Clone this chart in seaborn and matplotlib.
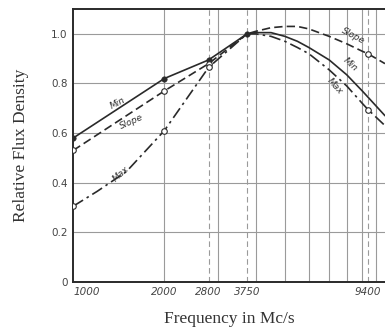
import matplotlib
matplotlib.use("Agg")
import matplotlib.pyplot as plt
import seaborn as sns
import pandas as pd

# ---- data ----
min_freq = [1000, 2000, 2800, 3750, 4000, 4500, 5000, 5500, 6000, 7000, 8000, 9000, 9400, 10700]
min_vals = [0.58, 0.82, 0.895, 1.0, 1.005, 1.005, 0.99, 0.97, 0.945, 0.895, 0.835, 0.77, 0.745, 0.67]
slope_freq = [1000, 2000, 2800, 3750, 4000, 4500, 5000, 5500, 6000, 7000, 8000, 9000, 9400, 10700]
slope_vals = [0.53, 0.77, 0.88, 1.0, 1.01, 1.025, 1.03, 1.03, 1.02, 0.99, 0.96, 0.93, 0.92, 0.88]
max_freq = [1000, 1200, 1500, 2000, 2800, 3750, 4000, 4500, 5000, 5500, 6000, 7000, 8000, 9000, 9400, 10700]
max_vals = [0.305, 0.365, 0.445, 0.61, 0.865, 1.0, 1.0, 0.99, 0.97, 0.945, 0.92, 0.855, 0.79, 0.72, 0.695, 0.63]

min_pt_freq = [1000, 2000, 2800, 3750]
min_pt_vals = [0.58, 0.82, 0.895, 1.0]
slope_pt_freq = [1000, 2000, 2800, 9400]
slope_pt_vals = [0.53, 0.77, 0.88, 0.92]
max_pt_freq = [1000, 2000, 2800, 9400]
max_pt_vals = [0.305, 0.61, 0.865, 0.695]

xtick_vals = [1000, 2000, 2800, 3750, 9400]
xtick_labels = ["1000", "2000", "2800", "3750", "9400"]
ytick_vals = [0, 0.2, 0.4, 0.6, 0.8, 1.0]
ytick_labels = ["0", "0.2", "0.4", "0.6", "0.8", "1.0"]
solid_grid_freq = [2000, 3000, 4000, 5000, 6000, 7000, 8000, 9000, 10000]
dashed_grid_freq = [2800, 3750, 9400]

sns.set_style("white")
plt.rcParams['font.family'] = ['DejaVu Sans']

fig = plt.figure(figsize=(3.85, 3.36), dpi=100)
ax = fig.add_axes([0.19, 0.161, 0.81, 0.812])

ink = "#2a2a2a"
grid_c = "#9a9a9a"

for f in solid_grid_freq:
    ax.axvline(f, color=grid_c, lw=0.8, zorder=1)
for f in dashed_grid_freq:
    ax.axvline(f, color=grid_c, lw=0.8, ls=(0, (5, 3)), zorder=1)
for v in ytick_vals[1:]:
    ax.axhline(v, color=grid_c, lw=0.8, zorder=1)

df = pd.DataFrame({
    "freq": min_freq + slope_freq + max_freq,
    "val": min_vals + slope_vals + max_vals,
    "curve": ["Min"] * len(min_freq) + ["Slope"] * len(slope_freq) + ["Max"] * len(max_freq),
})
sns.lineplot(data=df, x="freq", y="val", hue="curve", style="curve",
             palette={"Min": ink, "Slope": ink, "Max": ink},
             dashes={"Min": "", "Slope": (5, 2.5), "Max": (7, 2.5, 1.5, 2.5)},
             lw=1.2, legend=False, ax=ax, zorder=3, sort=False)

sns.scatterplot(x=min_pt_freq, y=min_pt_vals, color=ink, s=16, ax=ax, zorder=4,
                edgecolor=ink)
sns.scatterplot(x=slope_pt_freq, y=slope_pt_vals, color="white", s=16, ax=ax,
                zorder=4, edgecolor=ink, linewidth=0.8)
sns.scatterplot(x=max_pt_freq, y=max_pt_vals, color="white", s=16, ax=ax,
                zorder=4, edgecolor=ink, linewidth=0.8, marker="o")

ax.set_xscale("log")
ax.set_xlim(1000, 10700)
ax.set_ylim(0, 1.1)

ax.set_xticks(xtick_vals)
ax.set_xticklabels(xtick_labels, fontsize=7.5, style="italic", color="#444")
ax.xaxis.set_minor_locator(matplotlib.ticker.NullLocator())
ax.set_yticks(ytick_vals)
ax.set_yticklabels(ytick_labels, fontsize=7.5, color="#444")
ax.tick_params(length=0, pad=4)
for lab in ax.get_xticklabels():
    if lab.get_text() == "1000":
        lab.set_horizontalalignment("left")

for s in ["left", "bottom", "top"]:
    ax.spines[s].set_color(ink)
    ax.spines[s].set_linewidth(1.4)
ax.spines["right"].set_visible(False)

ax.set_xlabel("Frequency in Mc/s", family="Liberation Serif", fontsize=12.5,
              labelpad=10, color="#333")
ax.set_ylabel("Relative Flux Density", family="Liberation Serif", fontsize=12.5,
              labelpad=16, color="#333")

lab_kw = dict(fontsize=6.5, style="italic", color="#333", ha="center", va="center")
ax.text(1400, 0.72, "Min", rotation=27, **lab_kw)
ax.text(1560, 0.645, "Slope", rotation=24, **lab_kw)
ax.text(1440, 0.435, "Max", rotation=42, **lab_kw)
ax.text(8400, 0.99, "Slope", rotation=-28, **lab_kw)
ax.text(8200, 0.875, "Min", rotation=-42, **lab_kw)
ax.text(7300, 0.79, "Max", rotation=-48, **lab_kw)

fig.savefig("out.png", dpi=100)
